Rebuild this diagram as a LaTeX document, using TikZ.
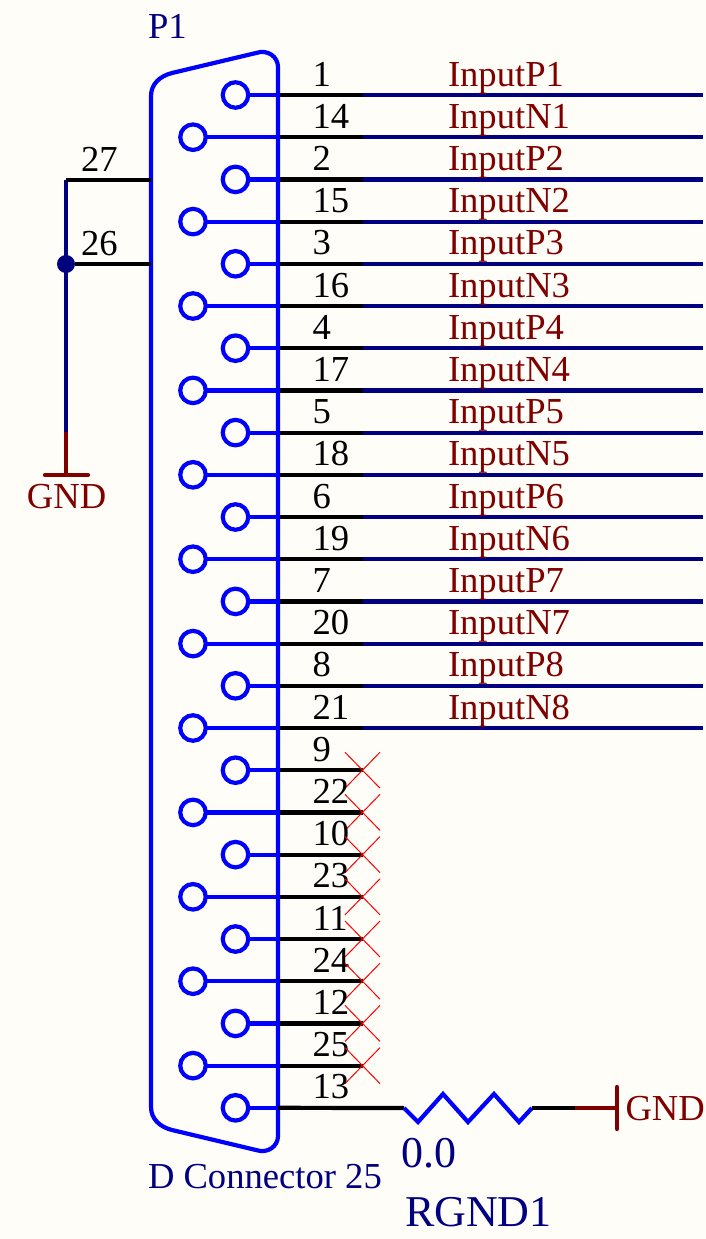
\documentclass[tikz,border=0pt]{standalone}
\usepackage{fontspec}
\setmainfont{Liberation Serif}
\definecolor{bgc}{HTML}{FFFDF8}
\definecolor{pinblue}{HTML}{0000FF}
\definecolor{netnavy}{HTML}{000080}
\definecolor{pwr}{HTML}{800000}
\tikzset{
  txt/.style={inner sep=0pt,outer sep=0pt,anchor=base west,font=\fontsize{36.6}{41}\selectfont},
  bigtxt/.style={txt,font=\fontsize{44}{49}\selectfont},
  pinlabel/.style={txt,text=black},
  netlabel/.style={txt,text=pwr},
  deslabel/.style={txt,text=netnavy},
  pincirc/.style={circle,draw=pinblue,line width=4.2pt,minimum size=25.5pt,inner sep=0pt,outer sep=0pt},
  bodyline/.style={draw=pinblue,line width=4.2pt},
  blackwire/.style={draw=black,line width=4.2pt},
  navywire/.style={draw=netnavy,line width=4.2pt},
  pwrwire/.style={draw=pwr,line width=4.2pt},
  nc/.style={draw=red,line width=1pt},
}
\begin{document}
\begin{tikzpicture}[x=1pt,y=-1pt]
\path[use as bounding box,fill=bgc] (0,0) rectangle (706,1239);
% signal rows
\foreach \k in {0,...,24}{
  \pgfmathsetmacro\ry{95+42.2*\k}
  \pgfmathtruncatemacro\isodd{mod(\k,2)}
  \pgfmathtruncatemacro\pnum{\isodd==1 ? (\k-1)/2+14 : \k/2+1}
  \pgfmathsetmacro\px{\isodd==1 ? 193 : 235.5}
  \pgfmathtruncatemacro\nnum{\isodd==1 ? (\k+1)/2 : \k/2+1}
  \node[pincirc] (pin\k) at (\px,\ry) {};
  \coordinate (edge\k) at (278,\ry);
  \coordinate (mid\k) at (363,\ry);
  \coordinate (end\k) at (703,\ry);
  \path[blackwire] (edge\k) -- (mid\k);
  \path[bodyline] (pin\k.east) -- (edge\k);
  \node[pinlabel] (lab\k) at (312.5,\ry-9) {\pnum};
  \ifnum\k<16
    \path[navywire] (mid\k) -- (end\k);
    \ifnum\isodd=1
      \node[netlabel] (net\k) at (448,\ry-9) {InputN\nnum};
    \else
      \node[netlabel] (net\k) at (448,\ry-9) {InputP\nnum};
    \fi
  \else
    \ifnum\k<24
      \coordinate (xa\k) at (345,\ry-18);
      \coordinate (xb\k) at (380,\ry+18);
      \coordinate (xc\k) at (380,\ry-18);
      \coordinate (xd\k) at (345,\ry+18);
      \path[nc] (xa\k) -- (xb\k);
      \path[nc] (xc\k) -- (xd\k);
    \fi
  \fi
}
% connector shell
\path[bodyline,line join=round]
  (278,1108) -- (278,67)
  .. controls (278,57) and (268,49) .. (256,53)
  -- (172,73)
  .. controls (160,76) and (151,84) .. (151,96)
  -- (151,1107)
  .. controls (151,1119) and (160,1127) .. (172,1130)
  -- (256,1150)
  .. controls (268,1154) and (278,1146) .. (278,1136)
  -- cycle;
% shield pins
\coordinate (sh27) at (151,180);
\coordinate (sh26) at (151,264);
\coordinate (top) at (66,180);
\coordinate (gndtop) at (66,432);
\coordinate (gndbase) at (66,475);
\coordinate (gndl) at (45,475);
\coordinate (gndr) at (88,475);
\node[circle,fill=netnavy,minimum size=18pt,inner sep=0pt,outer sep=0pt] (junction) at (66,264) {};
\path[navywire] (top) -- (gndtop);
\path[blackwire] (sh27) -- (top);
\path[blackwire] (sh26) -- (junction);
\path[pwrwire] (gndtop) -- (gndbase);
\path[pwrwire,line cap=round] (gndl) -- (gndr);
\node[pinlabel] (l27) at (81,171) {27};
\node[pinlabel] (l26) at (81,255) {26};
\node[netlabel] (gndA) at (27,508) {GND};
% resistor
\coordinate (ra) at (404,1108);
\coordinate (rb) at (532,1108);
\coordinate (rc) at (575,1108);
\coordinate (rd) at (617,1108);
\coordinate (re) at (617,1087);
\coordinate (rf) at (617,1129);
\path[blackwire] (edge24) -- (ra);
\path[bodyline,line join=miter] (ra) -- (418,1122) -- (443,1094) -- (468,1122) -- (494,1094) -- (519,1122) -- (rb);
\path[blackwire] (rb) -- (rc);
\path[pwrwire] (rc) -- (rd);
\path[pwrwire,line cap=round] (re) -- (rf);
\node[netlabel] (gndB) at (625.5,1120) {GND};
% designators
\node[deslabel] (p1) at (148,39) {P1};
\node[deslabel] (dc) at (148,1188) {D Connector 25};
\node[bigtxt,text=netnavy] (val) at (401.5,1167) {0.0};
\node[bigtxt,text=netnavy] (rgnd) at (405,1226) {RGND1};
\end{tikzpicture}
\end{document}
